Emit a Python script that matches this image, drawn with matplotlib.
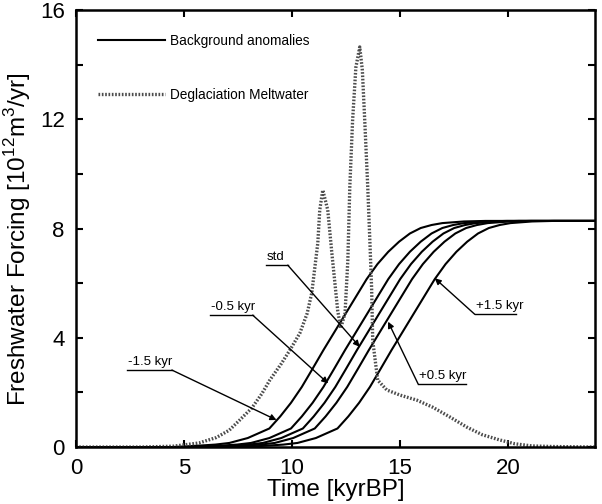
import matplotlib
matplotlib.use("Agg")
import matplotlib.pyplot as plt
from matplotlib.ticker import MultipleLocator

plt.rcParams['font.family'] = ['Liberation Sans', 'DejaVu Sans']
plt.rcParams['mathtext.fontset'] = 'custom'
plt.rcParams['mathtext.rm'] = 'Liberation Sans'

# background anomaly curves, shared y profile
bg_y = [0, 0, 0.04, 0.09, 0.15, 0.33, 0.68, 1.12, 1.62, 2.2, 2.87, 3.55, 4.2,
        4.85, 5.5, 6.15, 6.7, 7.15, 7.52, 7.82, 8.02, 8.13, 8.2, 8.26, 8.28, 8.28]
bg_m15 = [0, 4.45, 5.45, 6.45, 7.1, 7.95, 8.95, 9.45, 9.95, 10.45, 10.95, 11.45, 11.95,
          12.45, 12.95, 13.45, 13.95, 14.45, 14.95, 15.45, 15.95, 16.45, 16.95, 17.95, 18.95, 24]
bg_m05 = [0, 5.45, 6.45, 7.45, 8.1, 8.95, 9.95, 10.45, 10.95, 11.45, 11.95, 12.45, 12.95,
          13.45, 13.95, 14.45, 14.95, 15.45, 15.95, 16.45, 16.95, 17.45, 17.95, 18.95, 19.95, 24]
bg_std = [0, 6.0, 7.0, 8.0, 8.65, 9.5, 10.5, 11.0, 11.5, 12.0, 12.5, 13.0, 13.5,
          14.0, 14.5, 15.0, 15.5, 16.0, 16.5, 17.0, 17.5, 18.0, 18.5, 19.5, 20.5, 24]
bg_p05 = [0, 6.55, 7.55, 8.55, 9.2, 10.05, 11.05, 11.55, 12.05, 12.55, 13.05, 13.55, 14.05,
          14.55, 15.05, 15.55, 16.05, 16.55, 17.05, 17.55, 18.05, 18.55, 19.05, 20.05, 21.05, 24]
bg_p15 = [0, 7.6, 8.6, 9.6, 10.25, 11.1, 12.1, 12.6, 13.1, 13.6, 14.1, 14.6, 15.1,
          15.6, 16.1, 16.6, 17.1, 17.6, 18.1, 18.6, 19.1, 19.6, 20.1, 21.1, 22.1, 24]

# deglaciation meltwater
mw_x = [0, 3, 4.5, 5.7, 6.5, 7.1, 7.58, 8.14, 8.6, 8.97, 9.5, 9.9, 10.36, 10.7, 10.91,
        11.19, 11.28, 11.42, 11.55, 11.65, 11.84, 12.11, 12.25, 12.45, 12.58, 12.67, 12.8,
        12.95, 13.13, 13.25, 13.36, 13.5, 13.6, 13.68, 13.73, 13.96, 14.38, 15.0, 15.76,
        16.5, 17.3, 18.08, 18.8, 19.6, 20.3, 21.1, 22, 24]
mw_y = [0, 0, 0.03, 0.15, 0.35, 0.62, 0.99, 1.43, 1.95, 2.45, 3.05, 3.55, 4.17, 4.9, 5.64,
        7.47, 8.68, 9.41, 9.0, 8.68, 7.1, 5.0, 4.35, 4.9, 6.85, 9.52, 11.97,
        13.9, 14.65, 13.8, 11.97, 9.52, 7.5, 5.8, 3.9, 2.45, 2.09, 1.9, 1.72,
        1.46, 1.1, 0.73, 0.45, 0.26, 0.12, 0.04, 0.02, 0.0]

# labels: text, underline start/end, arrow tip, which end the leader leaves from
lab_text = ['-1.5 kyr', '-0.5 kyr', 'std', '+0.5 kyr', '+1.5 kyr']
lab_x0 = [2.36, 6.2, 8.78, 15.83, 18.45]
lab_x1 = [4.44, 8.18, 9.8, 18.06, 20.37]
lab_y = [2.82, 4.83, 6.66, 2.31, 4.86]
tip_x = [9.28, 11.67, 13.13, 14.44, 16.6]
tip_y = [0.99, 2.33, 3.67, 4.59, 6.18]
lead_right = [True, True, True, False, False]

fig = plt.figure(figsize=(6.02, 5.04), dpi=100)
ax = fig.add_axes([0.126, 0.113, 0.862, 0.867])

first = True
for xs in [bg_m15, bg_m05, bg_std, bg_p05, bg_p15]:
    ax.plot(xs, bg_y, color='black', lw=1.5,
            label='Background anomalies' if first else None)
    first = False
ax.plot(mw_x, mw_y, color='0.3', lw=2.4, linestyle=(0, (0.5, 0.5)),
        label='Deglaciation Meltwater')

for i in range(len(lab_text)):
    ax.text(lab_x0[i] + 0.05, lab_y[i] + 0.08, lab_text[i], fontsize=9.5,
            ha='left', va='bottom')
    ax.plot([lab_x0[i], lab_x1[i]], [lab_y[i], lab_y[i]], color='black', lw=1)
    sx = lab_x1[i] if lead_right[i] else lab_x0[i]
    ax.annotate('', xy=(tip_x[i], tip_y[i]), xytext=(sx, lab_y[i]),
                arrowprops=dict(arrowstyle='-|>', color='black', lw=1,
                                mutation_scale=9, shrinkA=0, shrinkB=0))

ax.set_xlim(0, 24)
ax.set_ylim(0, 16)
ax.xaxis.set_major_locator(MultipleLocator(5))
ax.yaxis.set_major_locator(MultipleLocator(4))
ax.yaxis.set_minor_locator(MultipleLocator(2))
ax.tick_params(which='both', direction='in', top=True, right=True, width=1.5,
               length=5, labelsize=16)
ax.tick_params(axis='x', pad=8)
ax.tick_params(axis='y', pad=8)
for s in ax.spines.values():
    s.set_linewidth(1.8)

ax.set_xlabel('Time [kyrBP]', fontsize=17.5)
ax.xaxis.set_label_coords(0.5, -0.074)
ax.set_ylabel('Freshwater Forcing [10$^{12}$m$^3$/yr]', fontsize=17.5)
ax.yaxis.set_label_coords(-0.083, 0.476)

ax.legend(loc='upper left', bbox_to_anchor=(0.043, 0.945), frameon=False,
          fontsize=9.8, handlelength=4.9, handletextpad=0.4, labelspacing=2.9,
          borderpad=0, borderaxespad=0)

fig.savefig('out.png', dpi=100)
